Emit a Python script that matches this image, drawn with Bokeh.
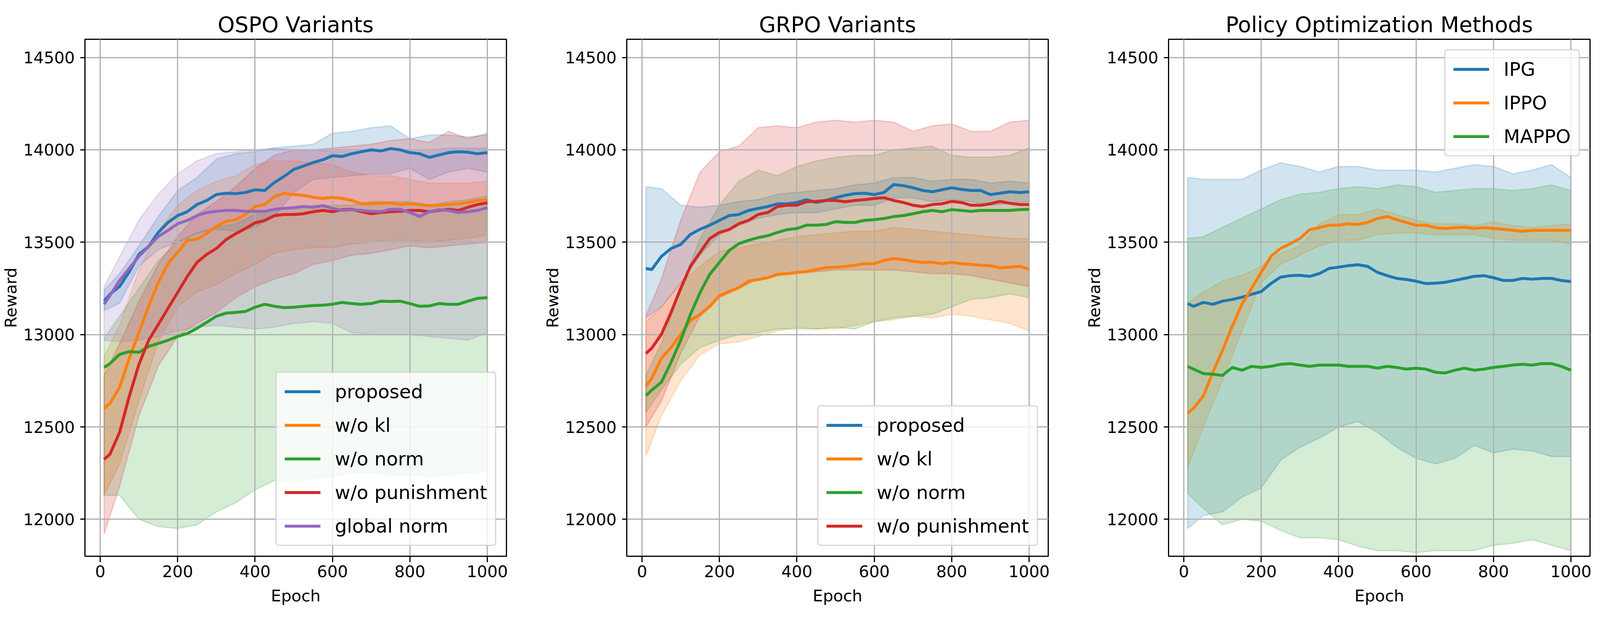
from bokeh.plotting import figure
from bokeh.layouts import row
from bokeh.models import Range1d, FixedTicker
from bokeh.embed import file_html
from bokeh.resources import INLINE

# ---------------- data ----------------
EPOCH = [10, 25, 50, 75, 100, 125, 150, 175, 200, 225, 250, 275, 300, 325, 350, 375, 400,
         425, 450, 475, 500, 525, 550, 575, 600, 625, 650, 675, 700, 725, 750, 775, 800,
         825, 850, 875, 900, 925, 950, 975, 1000]
BAND_EPOCH = [10, 50, 100, 150, 200, 250, 300, 350, 400, 450, 500, 550, 600, 650, 700,
              750, 800, 850, 900, 950, 1000]
X_TICKS = [0, 200, 400, 600, 800, 1000]
Y_TICKS = [12000, 12500, 13000, 13500, 14000, 14500]

# OSPO Variants
ospo_proposed = [13181, 13218, 13261, 13340, 13434, 13477, 13553, 13607, 13644, 13665, 13704,
                 13726, 13758, 13765, 13763, 13769, 13784, 13780, 13823, 13856, 13894, 13912,
                 13931, 13946, 13968, 13964, 13979, 13990, 14000, 13994, 14007, 14000, 13985,
                 13979, 13959, 13972, 13985, 13990, 13987, 13979, 13985]
ospo_wokl = [12601, 12627, 12715, 12872, 13012, 13153, 13282, 13384, 13445, 13510, 13516, 13548,
             13585, 13613, 13622, 13650, 13693, 13704, 13747, 13765, 13758, 13754, 13743, 13737,
             13743, 13737, 13726, 13708, 13708, 13711, 13713, 13704, 13708, 13704, 13698, 13700,
             13704, 13708, 13715, 13726, 13730]
ospo_wonorm = [12822, 12843, 12893, 12908, 12904, 12936, 12952, 12969, 12990, 13006, 13034, 13066,
               13099, 13116, 13120, 13125, 13148, 13164, 13153, 13146, 13148, 13153, 13157, 13159,
               13164, 13174, 13168, 13164, 13168, 13181, 13179, 13181, 13168, 13153, 13155, 13168,
               13164, 13164, 13181, 13196, 13200]
ospo_wopun = [12324, 12352, 12471, 12666, 12839, 12969, 13055, 13142, 13228, 13315, 13391, 13434,
              13466, 13514, 13546, 13574, 13605, 13618, 13644, 13650, 13650, 13654, 13665, 13672,
              13665, 13676, 13678, 13665, 13654, 13661, 13665, 13667, 13672, 13672, 13665, 13672,
              13678, 13672, 13689, 13704, 13713]
ospo_global = [13164, 13211, 13293, 13358, 13423, 13477, 13531, 13564, 13600, 13618, 13644, 13661,
               13667, 13672, 13672, 13667, 13667, 13667, 13678, 13683, 13687, 13693, 13689, 13698,
               13683, 13672, 13676, 13672, 13667, 13665, 13678, 13678, 13661, 13639, 13665, 13676,
               13672, 13661, 13665, 13672, 13687]

ospo_proposed_hi = [13240, 13330, 13480, 13640, 13780, 13850, 13950, 13980, 13990, 14010, 14020,
                    14030, 14090, 14100, 14120, 14130, 14060, 14080, 14080, 14070, 14080]
ospo_proposed_lo = [13130, 13170, 13370, 13460, 13500, 13550, 13570, 13560, 13580, 13640, 13770,
                    13840, 13850, 13860, 13870, 13870, 13900, 13840, 13880, 13900, 13880]
ospo_wokl_hi = [12880, 13050, 13350, 13560, 13700, 13780, 13830, 13860, 13920, 13940, 13940,
                13930, 13920, 13880, 13860, 13860, 13840, 13820, 13820, 13820, 13830]
ospo_wokl_lo = [12130, 12300, 12640, 12960, 13150, 13230, 13270, 13330, 13380, 13440, 13460,
                13470, 13470, 13490, 13500, 13510, 13510, 13500, 13510, 13520, 13540]
ospo_wonorm_hi = [12980, 13100, 13250, 13400, 13500, 13550, 13580, 13600, 13650, 13680, 13680,
                  13700, 13700, 13700, 13720, 13720, 13720, 13700, 13720, 13730, 13750]
ospo_wonorm_lo = [12130, 12130, 12000, 11960, 11950, 11970, 12040, 12090, 12160, 12210, 12200,
                  12220, 12230, 12250, 12250, 12240, 12240, 12230, 12240, 12250, 12260]
ospo_wopun_hi = [12780, 12950, 13180, 13380, 13530, 13650, 13720, 13800, 13900, 13970, 14000,
                 14000, 14010, 14020, 14030, 14050, 14060, 14040, 14100, 14060, 14090]
ospo_wopun_lo = [11920, 12180, 12560, 12830, 12990, 13060, 13120, 13200, 13260, 13300, 13330,
                 13380, 13400, 13430, 13440, 13460, 13480, 13470, 13480, 13490, 13500]
ospo_global_hi = [13260, 13420, 13620, 13760, 13870, 13940, 13980, 13990, 14000, 14010, 14000,
                  14000, 13990, 13990, 14000, 14000, 14000, 14000, 14010, 14010, 14010]
ospo_global_lo = [12970, 12960, 12970, 12990, 13020, 13040, 13050, 13040, 13030, 13040, 13060,
                  13070, 13060, 13010, 13000, 13000, 13000, 12990, 12980, 12970, 13010]

# GRPO Variants
grpo_proposed = [13358, 13352, 13423, 13466, 13488, 13542, 13570, 13592, 13618, 13644, 13650,
                 13672, 13683, 13693, 13708, 13708, 13715, 13730, 13715, 13726, 13741, 13754,
                 13763, 13765, 13758, 13769, 13812, 13806, 13795, 13780, 13773, 13784, 13795,
                 13786, 13780, 13780, 13758, 13765, 13773, 13769, 13773]
grpo_wokl = [12720, 12763, 12872, 12930, 13001, 13077, 13109, 13153, 13211, 13233, 13254, 13289,
             13298, 13308, 13326, 13330, 13337, 13341, 13352, 13362, 13365, 13369, 13375, 13384,
             13384, 13401, 13412, 13406, 13397, 13391, 13391, 13384, 13391, 13384, 13380, 13375,
             13373, 13362, 13365, 13369, 13354]
grpo_wonorm = [12670, 12699, 12742, 12850, 12969, 13109, 13228, 13326, 13391, 13455, 13492, 13510,
               13525, 13535, 13553, 13568, 13574, 13592, 13592, 13596, 13611, 13607, 13607, 13618,
               13622, 13628, 13639, 13644, 13654, 13665, 13672, 13665, 13676, 13672, 13667, 13672,
               13672, 13672, 13672, 13676, 13678]
grpo_wopun = [12898, 12926, 13001, 13120, 13250, 13369, 13445, 13520, 13553, 13568, 13600, 13618,
              13650, 13661, 13693, 13700, 13700, 13719, 13721, 13726, 13726, 13719, 13726, 13730,
              13737, 13741, 13726, 13715, 13700, 13693, 13704, 13708, 13721, 13715, 13700, 13700,
              13708, 13721, 13711, 13704, 13704]

grpo_proposed_hi = [13800, 13790, 13700, 13690, 13700, 13720, 13730, 13760, 13770, 13780, 13790,
                    13810, 13820, 13850, 13850, 13830, 13840, 13840, 13820, 13830, 13820]
grpo_proposed_lo = [13090, 13150, 13280, 13430, 13540, 13590, 13630, 13650, 13660, 13660, 13680,
                    13700, 13700, 13740, 13740, 13720, 13730, 13720, 13700, 13710, 13720]
grpo_wokl_hi = [13070, 13150, 13280, 13370, 13450, 13470, 13490, 13510, 13530, 13540, 13550,
                13560, 13560, 13580, 13570, 13560, 13550, 13540, 13530, 13520, 13520]
grpo_wokl_lo = [12340, 12560, 12750, 12890, 12950, 12960, 12990, 13020, 13040, 13030, 13030,
                13050, 13070, 13080, 13100, 13090, 13110, 13100, 13080, 13060, 13020]
grpo_wonorm_hi = [12780, 12950, 13250, 13520, 13700, 13830, 13890, 13860, 13910, 13940, 13960,
                  13970, 13970, 14000, 14010, 14020, 13970, 13960, 13960, 13970, 14010]
grpo_wonorm_lo = [12580, 12700, 12840, 12930, 12970, 13000, 13010, 13030, 13030, 13030, 13040,
                  13030, 13070, 13090, 13100, 13110, 13150, 13190, 13200, 13220, 13200]
grpo_wopun_hi = [13100, 13300, 13620, 13880, 13990, 14020, 14120, 14130, 14120, 14150, 14160,
                 14150, 14160, 14150, 14100, 14130, 14140, 14100, 14100, 14150, 14160]
grpo_wopun_lo = [12500, 12640, 12900, 13100, 13200, 13250, 13300, 13320, 13330, 13340, 13350,
                 13350, 13350, 13350, 13340, 13330, 13330, 13320, 13300, 13280, 13260]

# Policy Optimization Methods
pol_ipg = [13168, 13153, 13174, 13164, 13181, 13190, 13202, 13218, 13233, 13276, 13311, 13319,
           13321, 13315, 13330, 13358, 13365, 13373, 13378, 13369, 13337, 13319, 13304, 13298,
           13289, 13276, 13278, 13283, 13293, 13304, 13315, 13319, 13308, 13293, 13293, 13304,
           13300, 13304, 13304, 13293, 13287]
pol_ippo = [12575, 12601, 12666, 12796, 12915, 13045, 13164, 13250, 13337, 13423, 13466, 13492,
            13520, 13568, 13579, 13592, 13592, 13600, 13596, 13607, 13628, 13639, 13622, 13607,
            13592, 13592, 13579, 13574, 13579, 13581, 13574, 13579, 13574, 13570, 13564, 13559,
            13564, 13564, 13564, 13564, 13564]
pol_mappo = [12828, 12813, 12789, 12785, 12779, 12822, 12807, 12828, 12822, 12828, 12839, 12843,
             12835, 12828, 12835, 12835, 12835, 12828, 12828, 12828, 12818, 12828, 12822, 12813,
             12818, 12813, 12796, 12792, 12807, 12818, 12807, 12813, 12822, 12828, 12835, 12839,
             12835, 12843, 12843, 12828, 12807]

pol_ipg_hi = [13850, 13840, 13840, 13840, 13890, 13930, 13910, 13880, 13910, 13910, 13890,
              13890, 13890, 13880, 13900, 13920, 13910, 13870, 13890, 13920, 13850]
pol_ipg_lo = [11950, 12020, 12040, 12120, 12170, 12320, 12390, 12440, 12500, 12530, 12470,
              12390, 12330, 12300, 12330, 12400, 12360, 12380, 12370, 12340, 12340]
pol_ippo_hi = [13170, 13230, 13290, 13320, 13370, 13440, 13480, 13600, 13650, 13650, 13680,
               13650, 13620, 13600, 13600, 13590, 13610, 13590, 13580, 13590, 13600]
pol_ippo_lo = [12280, 12500, 12750, 13020, 13280, 13380, 13430, 13480, 13510, 13510, 13540,
               13550, 13550, 13540, 13540, 13540, 13520, 13510, 13510, 13510, 13490]
pol_mappo_hi = [13520, 13530, 13580, 13630, 13680, 13730, 13760, 13770, 13790, 13800, 13790,
                13810, 13800, 13770, 13780, 13790, 13790, 13780, 13790, 13810, 13780]
pol_mappo_lo = [12140, 12060, 11970, 12000, 11990, 11940, 11900, 11900, 11890, 11855, 11830,
                11830, 11820, 11830, 11830, 11830, 11860, 11870, 11890, 11860, 11830]

BLUE, ORANGE, GREEN, RED, PURPLE = "#1f77b4", "#ff7f0e", "#2ca02c", "#d62728", "#9467bd"

PANELS = [
    ("OSPO Variants", "bottom_right", 91, [
        ("proposed", ospo_proposed, ospo_proposed_lo, ospo_proposed_hi, BLUE),
        ("w/o kl", ospo_wokl, ospo_wokl_lo, ospo_wokl_hi, ORANGE),
        ("w/o norm", ospo_wonorm, ospo_wonorm_lo, ospo_wonorm_hi, GREEN),
        ("w/o punishment", ospo_wopun, ospo_wopun_lo, ospo_wopun_hi, RED),
        ("global norm", ospo_global, ospo_global_lo, ospo_global_hi, PURPLE),
    ]),
    ("GRPO Variants", "bottom_right", 91, [
        ("proposed", grpo_proposed, grpo_proposed_lo, grpo_proposed_hi, BLUE),
        ("w/o kl", grpo_wokl, grpo_wokl_lo, grpo_wokl_hi, ORANGE),
        ("w/o norm", grpo_wonorm, grpo_wonorm_lo, grpo_wonorm_hi, GREEN),
        ("w/o punishment", grpo_wopun, grpo_wopun_lo, grpo_wopun_hi, RED),
    ]),
    ("Policy Optimization Methods", "top_right", 8, [
        ("IPG", pol_ipg, pol_ipg_lo, pol_ipg_hi, BLUE),
        ("IPPO", pol_ippo, pol_ippo_lo, pol_ippo_hi, ORANGE),
        ("MAPPO", pol_mappo, pol_mappo_lo, pol_mappo_hi, GREEN),
    ]),
]

FONT = "DejaVu Sans"


def make_panel(title, legend_loc, right_border, series):
    p = figure(frame_width=1079, frame_height=1323,
               min_border_left=215, min_border_right=right_border,
               min_border_top=100, min_border_bottom=163,
               x_range=Range1d(-39.5, 1049.5), y_range=Range1d(11800, 14598.5),
               output_backend="svg", toolbar_location=None, title=title)
    p.background_fill_color = "white"
    p.border_fill_color = "white"
    p.outline_line_color = "black"
    p.outline_line_width = 3
    p.outline_line_alpha = 1.0

    p.title.text_font = FONT
    p.title.text_font_size = "55.5px"
    p.title.text_font_style = "normal"
    p.title.text_color = "black"
    p.title.align = "center"
    p.title.standoff = 12

    p.xaxis.ticker = FixedTicker(ticks=X_TICKS)
    p.yaxis.ticker = FixedTicker(ticks=Y_TICKS)
    p.xaxis.axis_label = "Epoch"
    p.yaxis.axis_label = "Reward"
    for ax in (p.xaxis, p.yaxis):
        ax.axis_label_text_font = FONT
        ax.axis_label_text_font_size = "41.5px"
        ax.axis_label_text_font_style = "normal"
        ax.axis_label_text_color = "black"
        ax.major_label_text_font = FONT
        ax.major_label_text_font_size = "41.5px"
        ax.major_label_text_color = "black"
        ax.axis_line_color = "black"
        ax.axis_line_width = 3
        ax.major_tick_line_color = "black"
        ax.major_tick_line_width = 3
        ax.major_tick_in = 0
        ax.minor_tick_line_color = None
    p.xaxis.major_tick_out = 15
    p.yaxis.major_tick_out = 12
    p.xaxis.major_label_standoff = 8
    p.xaxis.axis_label_standoff = 20
    p.yaxis.major_label_standoff = 14
    p.yaxis.axis_label_standoff = 4

    p.grid.grid_line_color = "#b0b0b0"
    p.grid.grid_line_width = 3

    for name, mean, lo, hi, color in series:
        xs = list(BAND_EPOCH) + list(BAND_EPOCH)[::-1]
        ys = list(hi) + list(lo)[::-1]
        r = p.patch(xs, ys, fill_color=color, fill_alpha=0.2,
                    line_color=color, line_alpha=0.2, line_width=3.5)
        r.level = "image"
    for name, mean, lo, hi, color in series:
        p.line(EPOCH, mean, line_color=color, line_width=7.5,
               line_join="round", legend_label=name)

    leg = p.legend[0]
    leg.location = legend_loc
    leg.margin = 26
    leg.padding = 20
    leg.spacing = 30
    leg.glyph_width = 92
    leg.glyph_height = 48
    leg.label_height = 48
    leg.label_standoff = 37
    leg.label_text_font = FONT
    leg.label_text_font_size = "48.5px"
    leg.label_text_color = "black"
    leg.border_line_color = "#cccccc"
    leg.border_line_width = 3.5
    leg.border_line_alpha = 0.8
    leg.background_fill_color = "white"
    leg.background_fill_alpha = 0.8
    try:
        leg.border_radius = 8
    except Exception:
        pass
    return p


figs = [make_panel(t, loc, rb, s) for (t, loc, rb, s) in PANELS]
layout = row(*figs)
open("out.html", "w").write(file_html(layout, INLINE))
